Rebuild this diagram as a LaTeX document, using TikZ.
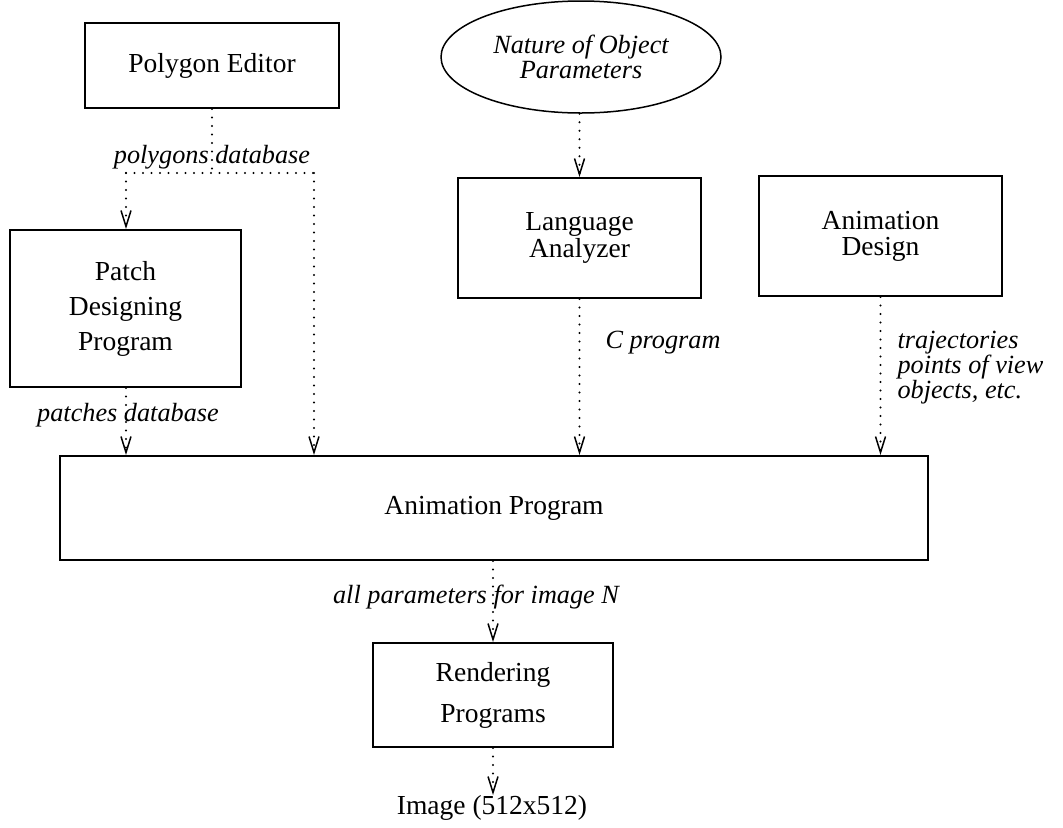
\documentclass[tikz,border=0pt]{standalone}
\usepackage{fontspec}
\setmainfont{Liberation Serif}
\usetikzlibrary{arrows.meta}
\usetikzlibrary{shapes.geometric}

\begin{document}
\begin{tikzpicture}[x=0.4pt,y=-0.4pt,
    >={Straight Barb[length=6.4pt,width=4pt,line width=0.6pt]},
    box/.style={draw,line width=0.8pt,align=center,inner sep=0pt,font=\fontsize{11}{14}\selectfont},
    flow/.style={line width=0.9pt,line cap=round,dash pattern=on 0pt off 3.4pt},
    lbl/.style={font=\fontsize{10.5}{10}\selectfont\itshape,inner sep=0pt}]
    \useasboundingbox (0,0) rectangle (1063,827);

    \node[box,minimum width=101.6pt,minimum height=34pt] (polyed) at (212,65.5) {Polygon Editor};
    \node[ellipse,draw,line width=0.6pt,inner sep=0pt,minimum width=112pt,minimum height=44.8pt,
          align=center,font=\fontsize{10.5}{7.5}\selectfont\itshape] (nature) at (581,57) {Nature of Object\\Parameters};
    \node[box,minimum width=92.4pt,minimum height=62.8pt] (patch) at (125.5,308.5) {Patch\\Designing\\Program};
    \node[box,minimum width=97.2pt,minimum height=48pt,font=\fontsize{11}{10.5}\selectfont] (lang) at (579.5,238) {Language\\Analyzer};
    \node[box,minimum width=97.2pt,minimum height=48pt,font=\fontsize{11}{10.5}\selectfont] (design) at (880.5,236) {Animation\\Design};
    \node[box,minimum width=347.2pt,minimum height=41.6pt] (anim) at (494,508) {Animation Program};
    \node[box,minimum width=96pt,minimum height=41.6pt,font=\fontsize{11}{16.4}\selectfont] (render) at (493,695) {Rendering\\Programs};
    \node[font=\fontsize{11}{12}\selectfont,inner sep=0pt] (img) at (492,808) {Image (512x512)};

    % labels on the flows
    \node[lbl] (polydb) at (212,157) {polygons database};
    \node[lbl] (patchdb) at (128,415) {patches database};
    \node[lbl,anchor=west] (cprog) at (605,343) {C program};
    \node[lbl,anchor=west,align=left,font=\fontsize{10.5}{10}\selectfont\itshape] (traj) at (897,368) {trajectories\\points of view\\objects, etc.};
    \node[lbl] (allpar) at (476,597) {all parameters for image N};

    \coordinate (split) at (212,173);
    \coordinate (polyL) at (126,173);
    \coordinate (polyR) at (314,173);

    \draw[flow] (polyed.south -| split) -- (split);
    \draw[flow] (polyL) -- (polyR);
    \draw[flow,->] (polyL) -- (polyL |- patch.north);
    \draw[flow,->] (polyR) -- (polyR |- anim.north);
    \draw[flow,->] (patch.south -| polyL) -- (polyL |- anim.north);
    \draw[flow,->] (nature.south -| lang.north) -- (lang.north);
    \draw[flow,->] (lang.south) -- (lang.south |- anim.north);
    \draw[flow,->] (design.south) -- (design.south |- anim.north);
    \draw[flow,->] (anim.south -| render.north) -- (render.north);
    \draw[flow,->] (render.south) -- (render.south |- img.north);
\end{tikzpicture}
\end{document}
